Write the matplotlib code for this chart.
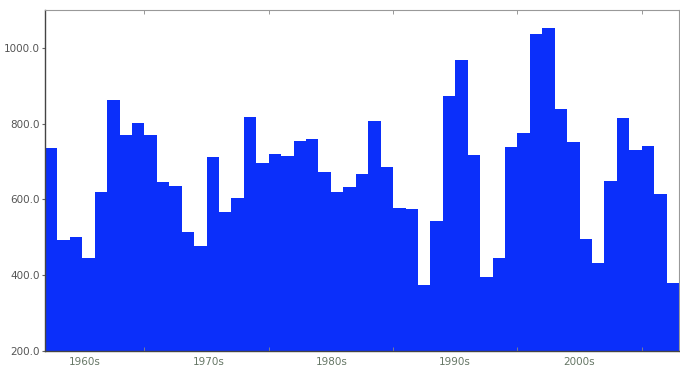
import matplotlib
matplotlib.use("Agg")
import matplotlib.pyplot as plt
import numpy as np

values = [736, 493, 501, 445, 620, 863, 770, 802, 770, 646,
          635, 515, 477, 712, 566, 604, 818, 697, 720, 715,
          755, 760, 673, 619, 632, 667, 807, 686, 577, 575,
          374, 543, 873, 968, 717, 395, 445, 738, 776, 1037,
          1053, 839, 752, 495, 433, 650, 815, 731, 742, 614,
          380]
decade_labels = ["1960s", "1970s", "1980s", "1990s", "2000s"]
label_pos = [3.2, 13.2, 23.1, 33.0, 43.0]
boundary_pos = [8, 18, 28, 38, 48]
yticks = [200, 400, 600, 800, 1000]

fig = plt.figure(figsize=(6.8, 3.72), dpi=100)
ax = fig.add_axes([45/680, 1-351/372, 634/680, 341/372])

x = np.arange(len(values))
ax.bar(x, np.array(values) - 200, bottom=200, width=1.0, align='edge',
       color='#0B2FFA', edgecolor='none')

ax.set_xlim(0, len(values))
ax.set_ylim(200, 1100)
ax.set_yticks(yticks)
ax.set_yticklabels([f"{v:.1f}" for v in yticks], fontsize=7.5, color='#555555')
ax.set_xticks(label_pos)
ax.set_xticklabels(decade_labels, fontsize=7.5, color='#667766')
ax.tick_params(axis='x', length=0, pad=4)
ax.set_xticks(boundary_pos, minor=True)
ax.tick_params(axis='x', which='minor', length=3, direction='in', top=True,
               bottom=True, color='#888888')
ax.tick_params(axis='y', length=2, color='#666666', pad=2)

for s in ['top', 'right']:
    ax.spines[s].set_color('#999999')
    ax.spines[s].set_linewidth(0.8)
for s in ['left', 'bottom']:
    ax.spines[s].set_color('#444444')
    ax.spines[s].set_linewidth(1.0)

fig.savefig("out.png", dpi=100)
